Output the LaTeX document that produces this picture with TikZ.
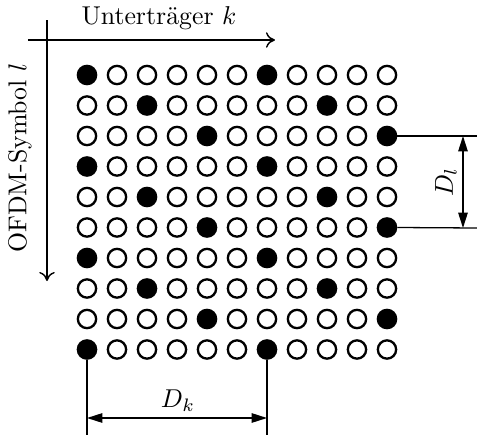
\documentclass[tikz,border=0pt]{standalone}
\usetikzlibrary{arrows.meta}
\begin{document}
\begin{tikzpicture}[x=0.3876pt,y=-0.3876pt,
  dot/.style={circle,draw,line width=0.9pt,minimum size=7.1pt,inner sep=0pt},
  dotf/.style={dot,fill=black},
  axis/.style={line width=0.55pt,-{To[length=3.5pt,width=6pt]}},
  ext/.style={line width=0.5pt},
  dim/.style={line width=0.5pt,{Triangle[length=6pt,width=3.7pt]}-{Triangle[length=6pt,width=3.7pt]}}]
\useasboundingbox (0,0) rectangle (477,435);
\foreach \r in {0,...,9}{
  \foreach \c in {0,...,10}{
    \pgfmathtruncatemacro\m{2*mod(\r,3)}
    \pgfmathtruncatemacro\mm{\m+6}
    \ifnum\c=\m \def\st{dotf}\else\ifnum\c=\mm \def\st{dotf}\else\def\st{dot}\fi\fi
    \node[\st] (c-\r-\c) at (87+30*\c,75+30.5*\r) {};
  }
}
% axes
\coordinate (ax0) at (28,40);
\coordinate (ax1) at (275,40);
\coordinate (ay0) at (47,20);
\coordinate (ay1) at (47,281);
\draw[axis] (ax0) -- (ax1);
\draw[axis] (ay0) -- (ay1);
\node (lk) at (159,18) {Unterträger $k$};
\node[rotate=90] (ll) at (20,158) {OFDM-Symbol $l$};
% D_l
\coordinate (el1) at (477,136);
\coordinate (el2) at (477,228);
\coordinate (dl1) at (463,136);
\coordinate (dl2) at (463,228);
\draw[ext] (c-2-10.east) -- (el1);
\draw[ext] (c-5-10.east) -- (el2);
\draw[dim] (dl1) -- (dl2);
\node[rotate=90] (Dl) at (446,182) {$D_l$};
% D_k
\coordinate (ek1) at (87,435);
\coordinate (ek2) at (267,435);
\coordinate (dk1) at (87,418);
\coordinate (dk2) at (267,418);
\draw[ext] (c-9-0.south) -- (ek1);
\draw[ext] (c-9-6.south) -- (ek2);
\draw[dim] (dk1) -- (dk2);
\node (Dk) at (178,401) {$D_k$};
\end{tikzpicture}
\end{document}
